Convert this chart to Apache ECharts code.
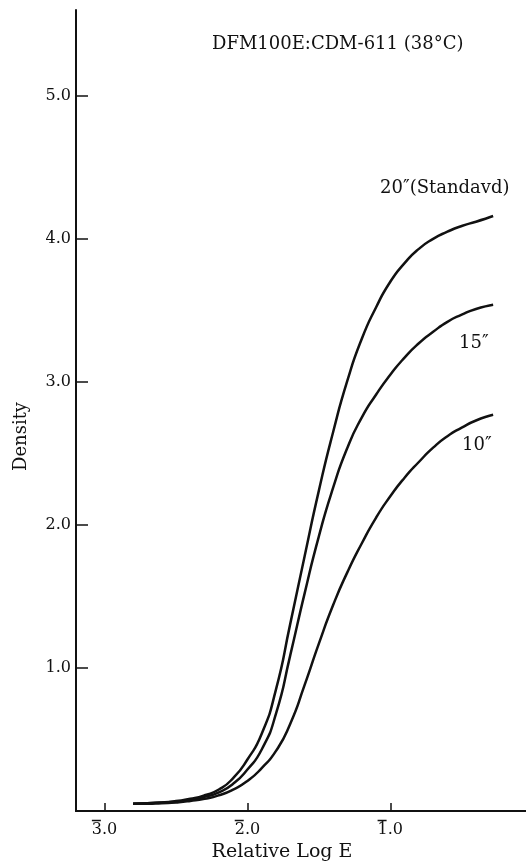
<!DOCTYPE html>
<html>
<head>
<meta charset="utf-8">
<script src="https://cdn.jsdelivr.net/npm/echarts@6/dist/echarts.min.js"></script>
<style>
  html, body { margin: 0; padding: 0; background: #fff; }
  #main { width: 526px; height: 861px; }
</style>
</head>
<body>
<div id="main"></div>
<script>
// relative log E (bar notation: 3̄.0 = -3)
const logE = [-2.8, -2.7, -2.6, -2.5, -2.4, -2.3, -2.2, -2.1, -2.0, -1.9, -1.8, -1.7, -1.6, -1.5, -1.4, -1.3, -1.2, -1.1, -1.0, -0.9, -0.8, -0.7, -0.6, -0.5, -0.4, -0.28];
const density20 = [0.05, 0.055, 0.06, 0.07, 0.085, 0.11, 0.15, 0.23, 0.36, 0.54, 0.85, 1.31, 1.78, 2.24, 2.65, 3.01, 3.30, 3.52, 3.70, 3.83, 3.93, 4.00, 4.05, 4.09, 4.12, 4.16];
const density15 = [0.05, 0.055, 0.06, 0.065, 0.08, 0.10, 0.13, 0.19, 0.29, 0.43, 0.68, 1.09, 1.52, 1.92, 2.26, 2.54, 2.75, 2.91, 3.05, 3.17, 3.27, 3.35, 3.42, 3.47, 3.51, 3.54];
const density10 = [0.05, 0.05, 0.055, 0.06, 0.07, 0.085, 0.11, 0.15, 0.21, 0.30, 0.42, 0.61, 0.88, 1.17, 1.44, 1.67, 1.87, 2.05, 2.20, 2.33, 2.44, 2.54, 2.62, 2.68, 2.73, 2.77];
const seriesNames = ['20″(Standavd)', '15″', '10″'];

const xTicks = [-3, -2, -1];
const xTickLabels = ['3.0', '2.0', '1.0'];   // first digit gets a bar over it
const yTicks = [1, 2, 3, 4, 5];
const yTickLabels = ['1.0', '2.0', '3.0', '4.0', '5.0'];

const font = 'DejaVu Serif';
const ink = '#111';

const pairs = (ys) => logE.map((x, i) => [x, ys[i]]);

const chart = echarts.init(document.getElementById('main'));
const lineSeries = (name, ys) => ({
  name: name,
  type: 'line',
  data: pairs(ys),
  showSymbol: false,
  smooth: 0.6,
  lineStyle: { color: ink, width: 2.5 },
  silent: true
});

chart.setOption({
  animation: false,
  backgroundColor: '#fff',
  title: {
    text: 'DFM100E:CDM-611 (38°C)',
    left: 212,
    top: 35,
    padding: 0,
    textStyle: { fontFamily: font, fontSize: 18, fontWeight: 'normal', color: ink }
  },
  grid: { left: 76, right: 0, top: 10, bottom: 50, outerBoundsMode: 'none' },
  xAxis: [{
    type: 'value',
    min: -3.2,
    max: -0.05,
    name: 'Relative Log E',
    nameLocation: 'middle',
    nameGap: 27,
    nameTextStyle: { fontFamily: font, fontSize: 19, color: ink, padding: [0, 38, 0, 0] },
    axisLine: { show: true, onZero: false, lineStyle: { color: ink, width: 2 } },
    axisTick: { show: true, inside: true, length: 8, customValues: xTicks, lineStyle: { color: ink, width: 1.5 } },
    axisLabel: {
      customValues: xTicks,
      margin: 8,
      fontFamily: font, fontSize: 16, color: ink,
      formatter: (v) => {
        const s = xTickLabels[xTicks.indexOf(v)];
        return s ? '{bar| }{gap| }\n{num|' + s + '}' : '';
      },
      rich: {
        bar: { width: 9, height: 1.5, lineHeight: 3, fontSize: 2, backgroundColor: ink },
        gap: { width: 16.4, height: 1.5, lineHeight: 3, fontSize: 2 },
        num: { fontFamily: font, fontSize: 16, color: ink, lineHeight: 16 }
      }
    },
    splitLine: { show: false }
  }, {
    type: 'value',
    position: 'top',
    min: -3.2,
    max: -0.05,
    axisLine: { show: true, lineStyle: { color: ink, width: 2 } },
    axisTick: { show: false },
    axisLabel: { show: false },
    splitLine: { show: false }
  }],
  yAxis: {
    type: 'value',
    min: 0,
    max: 5.6,
    name: 'Density',
    nameLocation: 'middle',
    nameGap: 46,
    nameRotate: 90,
    nameTextStyle: { fontFamily: font, fontSize: 18, color: ink, padding: [0, 52, 0, 0] },
    axisLine: { show: true, lineStyle: { color: ink, width: 2 } },
    axisTick: { show: true, inside: true, length: 12, customValues: yTicks, lineStyle: { color: ink, width: 1.5 } },
    axisLabel: {
      customValues: yTicks,
      margin: 5,
      fontFamily: font, fontSize: 16, color: ink,
      formatter: (v) => yTickLabels[yTicks.indexOf(v)] || ''
    },
    splitLine: { show: false }
  },
  graphic: [
    { type: 'text', left: 380, top: 179, style: { text: seriesNames[0], font: '18px "DejaVu Serif"', fill: ink } },
    { type: 'text', left: 459, top: 334, style: { text: seriesNames[1], font: '18px "DejaVu Serif"', fill: ink } },
    { type: 'text', left: 462, top: 436, style: { text: seriesNames[2], font: '18px "DejaVu Serif"', fill: ink } }
  ],
  series: [
    lineSeries(seriesNames[0], density20),
    lineSeries(seriesNames[1], density15),
    lineSeries(seriesNames[2], density10)
  ]
});
</script>
</body>
</html>
